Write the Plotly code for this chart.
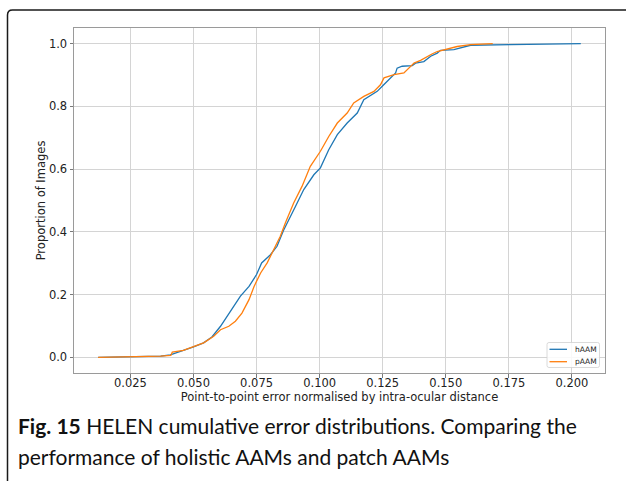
import plotly.graph_objects as go

# ---- data ----
h_x = [0.0122, 0.030, 0.037, 0.0408, 0.0423, 0.046, 0.050, 0.054, 0.0573, 0.0607,
       0.0646, 0.0686, 0.072, 0.075, 0.077, 0.0805, 0.0831, 0.0857, 0.0904, 0.0937,
       0.0977, 0.1003, 0.1036, 0.107, 0.1109, 0.1149, 0.1175, 0.1202, 0.1228, 0.1255,
       0.1281, 0.1301, 0.1307, 0.1327, 0.1367, 0.138, 0.1413, 0.144, 0.1466, 0.1479,
       0.1532, 0.1558, 0.1598, 0.1756, 0.2035]
h_y = [0.0, 0.002, 0.004, 0.008, 0.012, 0.020, 0.033, 0.046, 0.065, 0.099,
       0.147, 0.195, 0.226, 0.264, 0.301, 0.327, 0.354, 0.405, 0.481, 0.535,
       0.582, 0.604, 0.662, 0.710, 0.747, 0.779, 0.821, 0.834, 0.848, 0.870,
       0.891, 0.907, 0.922, 0.928, 0.930, 0.938, 0.943, 0.960, 0.970, 0.979,
       0.981, 0.986, 0.995, 0.997, 1.0]

p_x = [0.0122, 0.030, 0.037, 0.0410, 0.0416, 0.046, 0.050, 0.054, 0.058, 0.0607,
       0.064, 0.0666, 0.0692, 0.072, 0.074, 0.0766, 0.0792, 0.0818, 0.0844, 0.0864,
       0.0897, 0.093, 0.0963, 0.1003, 0.1036, 0.107, 0.1109, 0.1135, 0.1175, 0.1215,
       0.1241, 0.1255, 0.1295, 0.1334, 0.1354, 0.1374, 0.14, 0.1427, 0.1447, 0.1466,
       0.1519, 0.1545, 0.1598, 0.1686]
p_y = [0.0, 0.002, 0.004, 0.006, 0.017, 0.022, 0.033, 0.046, 0.067, 0.088,
       0.099, 0.115, 0.141, 0.184, 0.226, 0.269, 0.301, 0.343, 0.386, 0.428,
       0.492, 0.545, 0.609, 0.657, 0.704, 0.747, 0.779, 0.811, 0.832, 0.848,
       0.869, 0.891, 0.901, 0.907, 0.922, 0.938, 0.947, 0.960, 0.968, 0.975,
       0.986, 0.991, 0.997, 1.0]

series_names = ["hAAM", "pAAM"]
series_colors = ["#1f77b4", "#ff7f0e"]

x_ticks = [0.025, 0.050, 0.075, 0.100, 0.125, 0.150, 0.175, 0.200]
x_ticklabels = ["0.025", "0.050", "0.075", "0.100", "0.125", "0.150", "0.175", "0.200"]
y_ticks = [0.0, 0.2, 0.4, 0.6, 0.8, 1.0]
y_ticklabels = ["0.0", "0.2", "0.4", "0.6", "0.8", "1.0"]

x_title = "Point-to-point error normalised by intra-ocular distance"
y_title = "Proportion of Images"
caption_1 = "<b>Fig. 15</b> HELEN cumulative error distributions. Comparing the"
caption_2 = "performance of holistic AAMs and patch AAMs"

# ---- figure ----
W, H = 626, 481
ML, MR, MT, MB = 74, 21, 28, 108
PW, PH = W - ML - MR, H - MT - MB


def px_to_paper_x(px):
    return (px - ML) / PW


def px_to_paper_y(py):
    return (H - MB - py) / PH


fig = go.Figure()
for xs, ys, name, col in [(h_x, h_y, series_names[0], series_colors[0]),
                          (p_x, p_y, series_names[1], series_colors[1])]:
    fig.add_trace(go.Scatter(x=xs, y=ys, mode="lines", name=name, showlegend=False,
                             line=dict(color=col, width=1.3)))

axis_common = dict(
    showgrid=True, gridcolor="#d4d4d4", gridwidth=1,
    showline=True, linecolor="#9a9a9a", linewidth=1, mirror=True,
    ticks="outside", ticklen=3.5, tickwidth=0.8, tickcolor="#7a7a7a",
    zeroline=False,
    tickfont=dict(family="DejaVu Sans", size=11.5, color="#222222"),
    title_font=dict(family="DejaVu Sans", size=11.5, color="#222222"),
)

fig.update_xaxes(range=[0.00263, 0.2131], tickvals=x_ticks, ticktext=x_ticklabels,
                 title_text=x_title, title_standoff=0, ticklabelstandoff=-4,
                 **axis_common)
fig.update_yaxes(range=[-0.05, 1.05], tickvals=y_ticks, ticktext=y_ticklabels,
                 title_text=y_title, title_standoff=0, **axis_common)

# outer rounded frame (top-left corner visible)
r = 5
fx0, fy0 = 7.5, 10
path = (f"M {px_to_paper_x(fx0)} {px_to_paper_y(H + 5)} "
        f"L {px_to_paper_x(fx0)} {px_to_paper_y(fy0 + r)} "
        f"Q {px_to_paper_x(fx0)} {px_to_paper_y(fy0)} {px_to_paper_x(fx0 + r)} {px_to_paper_y(fy0)} "
        f"L {px_to_paper_x(W + 5)} {px_to_paper_y(fy0)}")
fig.add_shape(type="path", path=path, xref="paper", yref="paper",
              line=dict(color="#1a1a1a", width=1.5), layer="above")

# legend box (lower right, matplotlib style)
lx0, lx1, ly0, ly1 = 547, 599.5, 342.5, 367.5
rr = 2
lpath = (f"M {px_to_paper_x(lx0 + rr)} {px_to_paper_y(ly0)} "
         f"L {px_to_paper_x(lx1 - rr)} {px_to_paper_y(ly0)} "
         f"Q {px_to_paper_x(lx1)} {px_to_paper_y(ly0)} {px_to_paper_x(lx1)} {px_to_paper_y(ly0 + rr)} "
         f"L {px_to_paper_x(lx1)} {px_to_paper_y(ly1 - rr)} "
         f"Q {px_to_paper_x(lx1)} {px_to_paper_y(ly1)} {px_to_paper_x(lx1 - rr)} {px_to_paper_y(ly1)} "
         f"L {px_to_paper_x(lx0 + rr)} {px_to_paper_y(ly1)} "
         f"Q {px_to_paper_x(lx0)} {px_to_paper_y(ly1)} {px_to_paper_x(lx0)} {px_to_paper_y(ly1 - rr)} "
         f"L {px_to_paper_x(lx0)} {px_to_paper_y(ly0 + rr)} "
         f"Q {px_to_paper_x(lx0)} {px_to_paper_y(ly0)} {px_to_paper_x(lx0 + rr)} {px_to_paper_y(ly0)} Z")
fig.add_shape(type="path", path=lpath, xref="paper", yref="paper",
              line=dict(color="#d0d0d0", width=0.8), fillcolor="rgba(255,255,255,0.85)",
              layer="above")
for i, (name, col) in enumerate(zip(series_names, series_colors)):
    yy = 349.3 + i * 12.4
    fig.add_shape(type="line", xref="paper", yref="paper",
                  x0=px_to_paper_x(549.5), x1=px_to_paper_x(567),
                  y0=px_to_paper_y(yy), y1=px_to_paper_y(yy),
                  line=dict(color=col, width=1.3), layer="above")
    fig.add_annotation(text=name, x=px_to_paper_x(572.5), y=px_to_paper_y(yy),
                       xref="paper", yref="paper", xanchor="left", yanchor="middle",
                       showarrow=False,
                       font=dict(family="DejaVu Sans", size=7.5, color="#222222"))

cap_font = dict(family="Lato", size=21, color="#111111")
fig.add_annotation(text=caption_1, x=px_to_paper_x(16), y=px_to_paper_y(425),
                   xref="paper", yref="paper", xanchor="left", yanchor="middle",
                   showarrow=False, font=cap_font)
fig.add_annotation(text=caption_2, x=px_to_paper_x(16), y=px_to_paper_y(456),
                   xref="paper", yref="paper", xanchor="left", yanchor="middle",
                   showarrow=False, font=cap_font)

fig.update_layout(
    width=W, height=H,
    margin=dict(l=ML, r=MR, t=MT, b=MB),
    paper_bgcolor="white", plot_bgcolor="white",
    showlegend=False,
)

fig.write_html("out.html")
